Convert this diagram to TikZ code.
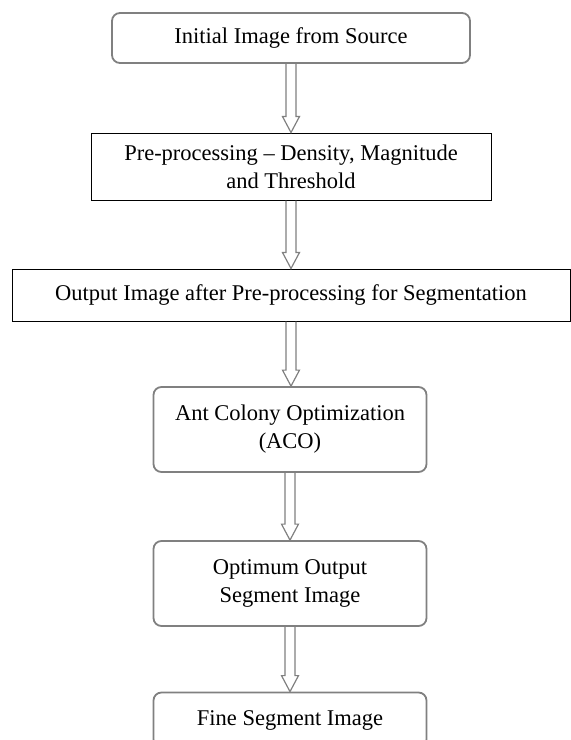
\documentclass[tikz,border=0pt]{standalone}
\usepackage{fontspec}
\setmainfont{Liberation Serif}
\usetikzlibrary{calc,positioning}

\begin{document}
\begin{tikzpicture}[x=0.5pt,y=-0.5pt,
    soft/.style={draw=gray,line width=0.9pt,rounded corners=4pt,align=center,inner sep=0pt,minimum width=136.5pt},
    hard/.style={draw=black,line width=0.5pt,align=center,inner sep=0pt},
    flow/.style={draw=gray,line width=0.6pt,to path={let \p1=(\tikztostart), \p2=(\tikztotarget) in
      (\x1-2.5pt,\y1) -- (\x1-2.5pt,\y2+8pt) -- (\x1-4.25pt,\y2+8pt) -- (\x1,\y2)
      -- (\x1+4.25pt,\y2+8pt) -- (\x1+2.5pt,\y2+8pt) -- (\x1+2.5pt,\y1)}},
    font=\fontsize{11.25}{14}\selectfont]
  \useasboundingbox (0,0) rectangle (570,740);
  \node[soft,minimum width=179pt,minimum height=25pt] (src) at (291,38) {Initial Image from Source};
  \node[hard,minimum width=200pt,minimum height=33.5pt] (pre) at (291,166.5) {Pre-processing -- Density, Magnitude\\and Threshold};
  \node[hard,minimum width=279pt,minimum height=26pt] (out) at (291,295) {Output Image after Pre-processing for Segmentation};
  \node[soft,minimum height=42.5pt] (aco) at (290,429.5) {Ant Colony Optimization\\(ACO)};
  \node[soft,minimum height=42.5pt] (opt) at (290,583.5) {Optimum Output\\Segment Image};
  \node[soft,minimum height=27.5pt] (fine) at (290,720) {Fine Segment Image};

  \draw[flow] (src.south) to (pre.north);
  \draw[flow] (pre.south) to (out.north);
  \draw[flow] (out.south) to (aco.north);
  \draw[flow] (aco.south) to (opt.north);
  \draw[flow] (opt.south) to (fine.north);
\end{tikzpicture}
\end{document}
